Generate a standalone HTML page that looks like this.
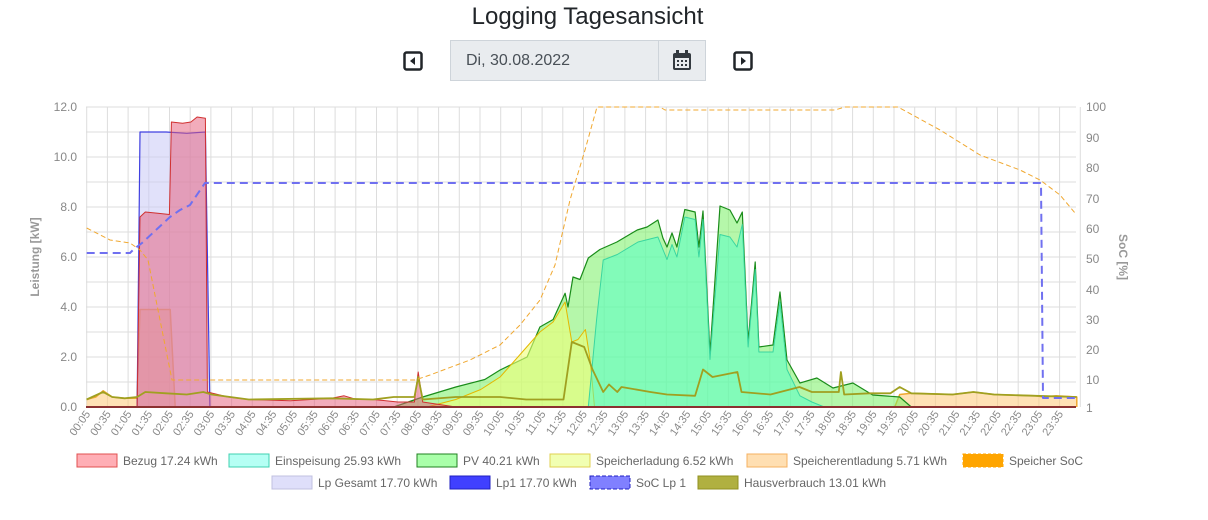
<!DOCTYPE html>
<html><head><meta charset="utf-8">
<style>
body{margin:0;width:1208px;height:520px;background:#fff;font-family:"Liberation Sans",sans-serif;overflow:hidden;position:relative}
.t{position:absolute;left:0;width:1175px;top:3px;text-align:center;font-size:24px;color:#212529}
.box{position:absolute;left:450px;top:40px;width:256px;height:41px;background:#e9ecef;border:1px solid #ced4da;box-sizing:border-box}
.box .d{position:absolute;left:15px;top:11px;font-size:16px;color:#495057}
.box .s{position:absolute;left:207px;top:0;width:1px;height:40px;background:#ced4da}
</style></head><body>
<div class="t">Logging Tagesansicht</div>
<div class="box"><span class="d">Di, 30.08.2022</span><div class="s"></div>
<svg style="position:absolute;left:221px;top:9px" width="20" height="22"><rect x="1" y="3" width="18" height="17" rx="2" fill="#343a40"/><rect x="3" y="8" width="14" height="10" fill="#e9ecef"/><rect x="4" y="0" width="3" height="5" fill="#343a40"/><rect x="13" y="0" width="3" height="5" fill="#343a40"/><g fill="#343a40"><rect x="5" y="10" width="2" height="2"/><rect x="9" y="10" width="2" height="2"/><rect x="13" y="10" width="2" height="2"/><rect x="5" y="14" width="2" height="2"/><rect x="9" y="14" width="2" height="2"/><rect x="13" y="14" width="2" height="2"/></g></svg></div>
<svg style="position:absolute;left:403px;top:51px" width="20" height="20"><rect x="1.5" y="1.5" width="17" height="17" rx="2" fill="none" stroke="#212529" stroke-width="2.5"/><path d="M12 6 L7 10 L12 14Z" fill="#212529"/></svg>
<svg style="position:absolute;left:733px;top:51px" width="20" height="20"><rect x="1.5" y="1.5" width="17" height="17" rx="2" fill="none" stroke="#212529" stroke-width="2.5"/><path d="M8 6 L13 10 L8 14Z" fill="#212529"/></svg>
<svg id="c" style="position:absolute;left:0;top:0" width="1208" height="520" font-family="Liberation Sans, sans-serif"></svg>
<script>
const s=document.getElementById('c');let h='';
const X=t=>86.7+(t*60-5)*0.69, Y=v=>407-v*25, P=v=>v;
for(let i=0;i<=48;i++){const x=86.7+i*20.7;h+=`<line x1="${x}" y1="107" x2="${x}" y2="407" stroke="#ddd"/>`;}
for(let i=0;i<=12;i++){const y=407-i*25;h+=`<line x1="86" y1="${y}" x2="1076" y2="${y}" stroke="#ddd"/>`;}
for(let i=0;i<=6;i++){h+=`<text x="77" y="${407-i*50+4}" text-anchor="end" font-size="12" fill="#888">${(i*2).toFixed(1)}</text>`;}
const rl=[[100,107],[90,138],[80,168],[70,199],[60,229],[50,259],[40,290],[30,320],[20,350],[10,380],[1,408]];
rl.forEach(r=>h+=`<text x="1086" y="${r[1]+4}" font-size="12" fill="#888">${r[0]}</text>`);
h+=`<text transform="translate(39,257) rotate(-90)" text-anchor="middle" font-size="12" fill="#999" font-weight="bold">Leistung [kW]</text>`;
h+=`<text transform="translate(1119,257) rotate(90)" text-anchor="middle" font-size="12" fill="#999" font-weight="bold">SoC [%]</text>`;
for(let i=0;i<48;i++){const x=86.7+i*20.7;const m=5+i*30;const lab=String(Math.floor(m/60)).padStart(2,'0')+':'+String(m%60).padStart(2,'0');
h+=`<text transform="translate(${x+4},414) rotate(-55)" text-anchor="end" font-size="11" fill="#888">${lab}</text>`;}
function area(d,fill,stroke,w){let p='M'+X(d[0][0])+','+Y(0);d.forEach(q=>p+=' L'+X(q[0]).toFixed(1)+','+Y(q[1]).toFixed(1));p+=' L'+X(d[d.length-1][0])+','+Y(0)+'Z';
let l='M'+d.map(q=>X(q[0]).toFixed(1)+','+Y(q[1]).toFixed(1)).join(' L');
h+=`<path d="${p}" fill="${fill}"/><path d="${l}" fill="none" stroke="${stroke}" stroke-width="${w||1}" stroke-linejoin="round"/>`;}
function line(d,fx,fy,stroke,w,dash){let l='M'+d.map(q=>fx(q[0]).toFixed(1)+','+fy(q[1]).toFixed(1)).join(' L');h+=`<path d="${l}" fill="none" stroke="${stroke}" stroke-width="${w}" stroke-dasharray="${dash}" stroke-linejoin="round"/>`;}
// Speicherentladung
area([[0.08,0.3],[0.3,0.4],[0.48,0.65],[0.7,0.4],[1.0,0.35],[1.3,0.35],[1.37,3.9],[2.1,3.9],[2.22,0],[19.6,0],[19.72,0.5],[20,0.55],[21,0.5],[21.5,0.6],[22,0.5],[23,0.45],[23.2,0.4],[23.5,0.45],[24,0.4],[24,0]],'rgba(255,200,120,0.55)','#f0a830',1.5);
// PV
area([[7.5,0],[8.2,0.4],[9,0.8],[9.7,1.1],[10.07,1.48],[10.72,2.0],[11.03,3.2],[11.35,3.5],[11.64,4.55],[11.71,4.0],[11.83,5.2],[12.0,5.1],[12.2,5.96],[12.48,6.3],[12.89,6.6],[13.38,7.08],[13.62,7.2],[13.88,7.48],[14.0,6.76],[14.1,6.4],[14.22,6.96],[14.34,6.4],[14.53,7.9],[14.78,7.8],[14.87,6.4],[14.97,7.84],[15.14,2.15],[15.38,8.04],[15.62,7.88],[15.79,7.36],[15.92,7.8],[16.06,2.6],[16.23,5.8],[16.32,2.4],[16.66,2.48],[16.83,4.6],[17.0,1.88],[17.31,0.96],[17.72,1.16],[18.11,0.76],[18.59,0.96],[19.07,0.48],[19.72,0.4],[20.0,0]],'rgba(120,240,100,0.55)','#1a8c1a',1.2);
// Speicherladung
area([[8.3,0],[9,0.3],[9.6,0.7],[10.07,1.2],[10.5,2.0],[11.03,3.0],[11.35,3.4],[11.64,4.2],[11.8,2.6],[11.95,2.7],[12.13,3.1],[12.25,1.8],[12.35,0]],'rgba(240,255,120,0.6)','#e5b800',1);
// Einspeisung
area([[12.2,0],[12.4,3.5],[12.56,5.88],[12.9,6.1],[13.4,6.6],[13.88,6.8],[14.0,6.3],[14.1,5.9],[14.22,6.5],[14.34,6.0],[14.53,7.6],[14.78,7.5],[14.87,6.0],[14.97,7.5],[15.14,1.9],[15.38,6.9],[15.62,6.8],[15.79,6.4],[15.92,7.3],[16.06,2.4],[16.23,5.5],[16.32,2.2],[16.66,2.2],[16.83,4.2],[17.0,1.5],[17.31,0.45],[17.6,0.2],[17.9,0]],'rgba(80,255,200,0.5)','#3ad6a0',1);
// Lp gesamt
area([[1.3,0],[1.37,11.0],[2.0,11.0],[2.5,10.95],[2.95,11.0],[3.06,0]],'rgba(200,200,245,0.55)','#4040e0',1.2);
// Bezug
area([[1.3,0],[1.37,7.6],[1.5,7.8],[1.8,7.75],[2.08,7.7],[2.13,11.4],[2.4,11.35],[2.6,11.4],[2.75,11.6],[2.95,11.55],[3.0,0.6],[3.5,0.4],[4,0.3],[5,0.25],[5.5,0.3],[6,0.35],[6.3,0.45],[6.6,0.3],[7,0.3],[7.6,0.2],[8.0,0.2],[8.09,1.4],[8.2,0.2],[8.6,0.1],[9,0]],'rgba(230,90,120,0.5)','#d03030',1);
// Hausverbrauch
line([[0.08,0.3],[0.48,0.6],[0.7,0.4],[1.0,0.35],[1.3,0.4],[1.5,0.6],[2.0,0.55],[2.5,0.5],[2.9,0.6],[3.1,0.5],[4,0.3],[6,0.35],[7,0.3],[7.5,0.4],[8,0.4],[8.09,1.2],[8.2,0.3],[9,0.4],[10.07,0.4],[10.7,0.3],[11.6,0.3],[11.8,2.6],[12.1,2.4],[12.3,1.5],[12.56,0.6],[12.7,0.9],[12.9,0.6],[13.0,0.8],[13.7,0.6],[14.1,0.5],[14.78,0.45],[14.97,1.5],[15.2,1.2],[15.8,1.4],[15.9,0.6],[16.6,0.5],[17.3,0.8],[17.6,0.6],[18.25,0.6],[18.3,1.4],[18.38,0.5],[19.0,0.55],[19.5,0.55],[19.72,0.8],[20,0.55],[21,0.5],[21.5,0.6],[22,0.5],[23,0.45],[24,0.4]],X,Y,'#a0a020',1.8,'');
h+=`<line x1="86" y1="407" x2="1076" y2="407" stroke="#8b3030" stroke-width="2"/>`;
// Speicher SoC (pixel y)
line([[86.7,228],[110,240],[130,243],[140,250],[148,260],[172,380],[415,380],[430,375],[470,360],[500,345],[520,325],[540,300],[555,265],[570,200],[585,150],[597,107],[660,107],[665,110],[835,110],[845,107],[898,107],[940,130],[980,155],[1020,170],[1040,180],[1060,195],[1075,213]],P,P,'#f0a830',1,'5,3');
// SoC Lp1
line([[86.7,253],[130,253],[134,249],[142,243],[170,217],[180,210],[190,205],[205,183],[1041,183],[1043,398],[1075,398]],P,P,'#7070f0',2,'8,5');
// legend
const L=[[77,461,'rgba(255,140,150,0.7)','#e05050','Bezug 17.24 kWh',''],[229,461,'rgba(150,255,240,0.7)','#40d0b0','Einspeisung 25.93 kWh',''],[417,461,'rgba(160,255,160,0.9)','#208020','PV 40.21 kWh',''],[550,461,'rgba(240,255,170,0.9)','#e0d050','Speicherladung 6.52 kWh',''],[747,461,'rgba(255,220,170,0.9)','#f5b060','Speicherentladung 5.71 kWh',''],[963,461,'#ffa500','#ffa500','Speicher SoC','3,2'],[272,483,'rgba(220,220,250,0.9)','#c0c0e0','Lp Gesamt 17.70 kWh',''],[450,483,'#4040ff','#2020c0','Lp1 17.70 kWh',''],[590,483,'#8080ff','#2020c0','SoC Lp 1','4,2'],[698,483,'#b0b040','#909020','Hausverbrauch 13.01 kWh','']];
L.forEach(l=>{h+=`<rect x="${l[0]}" y="${l[1]-7}" width="40" height="13" fill="${l[2]}" stroke="${l[3]}" stroke-dasharray="${l[5]}"/><text x="${l[0]+46}" y="${l[1]+4}" font-size="12" fill="#666">${l[4]}</text>`;});
s.innerHTML=h;
</script>
</body></html>
